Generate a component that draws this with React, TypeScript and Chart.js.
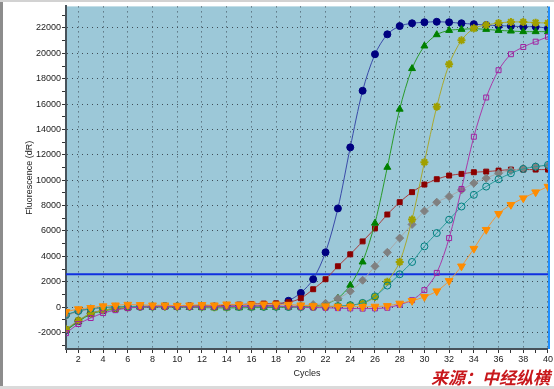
import React, { useEffect, useRef } from 'react';
import { Chart, registerables } from 'chart.js';

Chart.register(...registerables);

const cycles = [1, 2, 3, 4, 5, 6, 7, 8, 9, 10, 11, 12, 13, 14, 15, 16, 17, 18, 19, 20, 21, 22, 23, 24, 25, 26, 27, 28, 29, 30, 31, 32, 33, 34, 35, 36, 37, 38, 39, 40];

const navy = [-1800, -1100, -500, -250, -100, 0, 30, 50, 80, 60, 80, 60, 50, 70, 80, 80, 100, 150, 500, 1120, 2200, 4320, 7780, 12590, 17050, 19930, 21500, 22150, 22370, 22450, 22490, 22450, 22370, 22300, 22230, 22180, 22150, 22100, 22100, 21970];
const darkRed = [-650, -300, -150, -50, 0, 50, 60, 80, 100, 80, 100, 120, 100, 150, 200, 250, 280, 300, 380, 700, 1410, 2200, 3220, 4160, 5180, 6200, 7300, 8270, 9060, 9660, 10080, 10370, 10500, 10630, 10680, 10760, 10840, 10840, 10840, 10840];
const green = [-1850, -1150, -550, -300, -150, -50, 0, 0, 20, 0, -20, -40, -50, -60, -50, -40, -30, -20, 0, 20, 80, 250, 700, 1730, 3560, 6620, 11020, 15600, 18800, 20580, 21470, 21810, 21890, 21940, 21890, 21810, 21760, 21710, 21710, 21710];
const grey = [-700, -350, -150, -50, 0, 30, 50, 50, 60, 50, 40, 30, 20, 20, 30, 40, 50, 60, 80, 120, 200, 300, 680, 1250, 2120, 3220, 4320, 5440, 6520, 7570, 8270, 8720, 9240, 9770, 10160, 10550, 10760, 10940, 11070, 11150];
const olive = [-1750, -1050, -500, -250, -100, 0, 30, 40, 50, 40, 30, 20, 0, 0, 10, 20, 30, 30, 30, 20, 20, 30, 60, 150, 300, 800, 2000, 3560, 6910, 11420, 15800, 19140, 21030, 21970, 22230, 22390, 22470, 22470, 22420, 22390];
const teal = [-600, -300, -120, -30, 20, 40, 50, 50, 60, 50, 40, 40, 30, 20, 20, 20, 20, 20, 10, 10, 20, 40, 80, 150, 330, 850, 1700, 2590, 3560, 4790, 5840, 6890, 7930, 8850, 9500, 10080, 10550, 10890, 11070, 11210];
const magenta = [-2050, -1330, -860, -470, -240, -80, 0, 20, 30, 30, 20, 20, 30, 40, 60, 80, 100, 80, 50, 0, -30, -50, -80, -100, -120, -100, -50, 200, 550, 1340, 2700, 5440, 9310, 13430, 16520, 18670, 19930, 20500, 20920, 21310];
const orange = [-370, -150, -50, 80, 150, 200, 180, 150, 150, 120, 150, 180, 150, 230, 200, 230, 230, 230, 200, 150, 100, 80, 50, 40, 30, 50, 100, 290, 500, 810, 1260, 2070, 3220, 4610, 6100, 7360, 8070, 8590, 9060, 9500];

const thresholdCycles = [1, 40];
const thresholdValue = 2600;

const yTickValues = [-3000, -2000, -1000, 0, 1000, 2000, 3000, 4000, 5000, 6000, 7000, 8000, 9000, 10000, 11000, 12000, 13000, 14000, 15000, 16000, 17000, 18000, 19000, 20000, 21000, 22000, 23000];

const yTitle = 'Fluorescence (dR)';
const xTitle = 'Cycles';
const watermark = '来源：中经纵横';

const pts = (vals: number[]) => vals.map((v, i) => ({ x: cycles[i], y: v }));

const FONT = '"Liberation Sans", Arial, sans-serif';

export default function App() {
  const ref = useRef<HTMLCanvasElement | null>(null);

  useEffect(() => {
    if (!ref.current) return;
    const bgPlugin = {
      id: 'bgPlugin',
      beforeDraw(chart: any) {
        const { ctx, chartArea } = chart;
        ctx.save();
        ctx.fillStyle = '#9cc8d8';
        ctx.fillRect(chartArea.left, chartArea.top, chartArea.right - chartArea.left, chartArea.bottom - chartArea.top);
        ctx.restore();
      },
      afterDraw(chart: any) {
        const { ctx, chartArea } = chart;
        ctx.save();
        ctx.strokeStyle = '#1e8fff';
        ctx.lineWidth = 2;
        ctx.beginPath();
        ctx.moveTo(chartArea.right + 1, chartArea.top);
        ctx.lineTo(chartArea.right + 1, chartArea.bottom);
        ctx.stroke();
        ctx.restore();
      },
    };

    const mk = (vals: number[], line: string, fill: string, border: string, style: string, radius: number, extra: any = {}) => ({
      data: pts(vals),
      borderColor: line,
      borderWidth: 1,
      backgroundColor: fill,
      pointBackgroundColor: fill,
      pointBorderColor: border,
      pointBorderWidth: 1,
      pointStyle: style,
      pointRadius: radius,
      tension: 0.3,
      fill: false,
      ...extra,
    });

    const chart = new Chart(ref.current, {
      type: 'line',
      data: {
        datasets: [
          mk(orange, '#f0963a', '#ff8c00', '#ff8c00', 'triangle', 4.5, { pointRotation: 180 }),
          mk(magenta, '#a83aa8', 'rgba(0,0,0,0)', '#a020a0', 'rect', 3.5),
          mk(teal, '#2a9a9a', 'rgba(0,0,0,0)', '#008080', 'circle', 3.5),
          mk(olive, '#a8a830', '#a0a000', '#a0a000', 'star', 4, { pointBorderWidth: 2 }),
          mk(grey, '#a8a8a8', '#808080', '#808080', 'rectRot', 4),
          mk(green, '#2a9a2a', '#008000', '#008000', 'triangle', 4),
          mk(darkRed, '#a83a3a', '#8b0000', '#8b0000', 'rect', 3.5),
          mk(navy, '#3a4aa8', '#000080', '#000080', 'circle', 3.5),
          {
            data: thresholdCycles.map((c) => ({ x: c, y: thresholdValue })),
            borderColor: '#1030e0',
            borderWidth: 2,
            pointRadius: 0,
            fill: false,
          },
        ],
      },
      options: {
        animation: false,
        responsive: true,
        maintainAspectRatio: false,
        layout: { padding: { left: 22, top: 5, right: 6, bottom: 0 } },
        plugins: {
          legend: { display: false },
          tooltip: { enabled: false },
        },
        scales: {
          x: {
            type: 'linear',
            min: 1,
            max: 40,
            afterFit: (axis: any) => { axis.height = 40; },
            afterBuildTicks: (axis: any) => { axis.ticks = cycles.map((c) => ({ value: c })); },
            ticks: {
              stepSize: 1,
              autoSkip: false,
              maxRotation: 0,
              padding: 1,
              color: '#222',
              font: { family: FONT, size: 9 },
              callback: (v: any) => (Number(v) % 2 === 0 ? String(v) : ''),
            },
            grid: {
              color: (ctx: any) => (ctx.tick && ctx.tick.value % 2 === 0 ? '#3e4d57' : 'rgba(0,0,0,0)'),
              lineWidth: 1,
              tickColor: '#333',
              tickLength: 4,
              tickWidth: 1,
            },
            border: { color: '#47525a', width: 2, dash: [1, 4] },
            title: { display: true, text: xTitle, color: '#222', font: { family: FONT, size: 9 }, padding: { top: 0, bottom: 10.5 } },
          },
          y: {
            type: 'linear',
            min: -3300,
            max: 23700,
            afterFit: (axis: any) => { axis.width = 44; },
            afterBuildTicks: (axis: any) => { axis.ticks = yTickValues.map((v) => ({ value: v })); },
            ticks: {
              stepSize: 1000,
              autoSkip: false,
              padding: 1,
              color: '#222',
              font: { family: FONT, size: 9 },
              callback: (v: any) => (Number(v) % 2000 === 0 ? String(v) : ''),
            },
            grid: {
              color: (ctx: any) => (ctx.tick && ctx.tick.value % 2000 === 0 ? '#3e4d57' : 'rgba(0,0,0,0)'),
              lineWidth: 1,
              tickColor: '#333',
              tickLength: 4,
              tickWidth: 1,
            },
            border: { color: '#47525a', width: 2, dash: [1, 4] },
            title: { display: true, text: yTitle, color: '#222', font: { family: FONT, size: 9 }, padding: { top: 2.5, bottom: 0 } },
          },
        },
      },
      plugins: [bgPlugin],
    } as any);
    return () => chart.destroy();
  }, []);

  return (
    <div style={{ position: 'fixed', left: 0, top: 0, width: 554, height: 389, background: '#fff', overflow: 'hidden' }}>
      <canvas ref={ref} />
      <div style={{ position: 'absolute', left: 0, top: 0, width: 3, height: 389, background: '#8c8c8c' }} />
      <div style={{ position: 'absolute', left: 0, top: 0, width: 554, height: 2, background: '#d2d2d2' }} />
      <div style={{ position: 'absolute', left: 0, top: 386, width: 554, height: 3, background: '#dadada' }} />
      <div
        style={{
          position: 'absolute',
          left: 431,
          top: 367,
          fontFamily: '"Noto Sans CJK SC", sans-serif',
          fontWeight: 'bold',
          fontStyle: 'italic',
          fontSize: 17,
          lineHeight: '20px',
          color: '#c8181c',
          whiteSpace: 'nowrap',
        }}
      >
        {watermark}
      </div>
    </div>
  );
}
